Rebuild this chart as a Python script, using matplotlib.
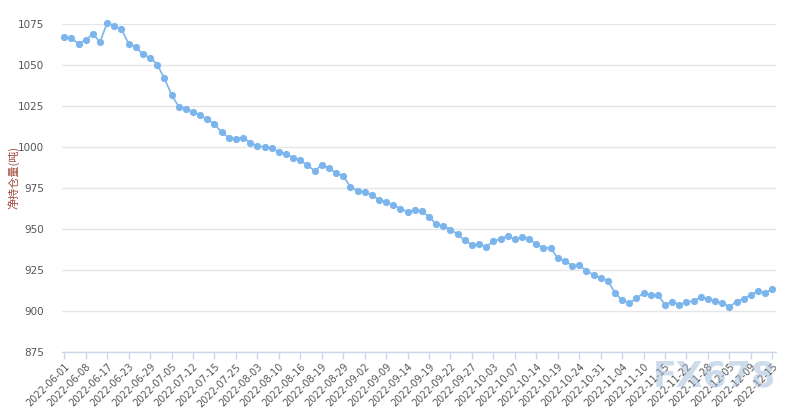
import matplotlib.pyplot as plt
import numpy as np

# net holdings (tonnes), one value per reported day
holdings = [
    1067.3, 1066.3, 1063.0, 1065.4, 1068.9, 1064.0, 1075.8, 1073.8, 1071.8, 1063.0,
    1061.0, 1056.5, 1054.5, 1050.2, 1041.9, 1031.9, 1024.6, 1023.2, 1021.4, 1019.5,
    1016.8, 1014.0, 1009.0, 1005.7, 1005.1, 1005.7, 1002.7, 1000.5, 1000.2, 999.1,
    997.1, 995.6, 993.6, 991.9, 988.8, 985.6, 988.8, 987.2, 984.1, 982.3,
    975.8, 973.2, 972.8, 970.7, 967.9, 966.5, 964.5, 962.4, 960.4, 961.8,
    960.8, 957.5, 953.0, 951.8, 949.7, 946.8, 943.0, 940.4, 940.7, 939.2,
    942.5, 944.0, 945.8, 943.8, 945.0, 944.0, 940.7, 938.6, 938.4, 932.3,
    930.5, 927.7, 927.9, 924.6, 922.0, 920.0, 918.5, 911.2, 906.5, 904.9,
    907.7, 911.0, 909.6, 909.8, 903.9, 905.7, 903.9, 905.3, 906.3, 908.3,
    907.5, 906.1, 904.9, 902.6, 905.7, 907.5, 909.8, 912.2, 911.0, 913.4,
]

# every third day carries a label
tick_labels = [
    "2022-06-01", "2022-06-08", "2022-06-17", "2022-06-23", "2022-06-29",
    "2022-07-05", "2022-07-12", "2022-07-15", "2022-07-25", "2022-08-03",
    "2022-08-10", "2022-08-16", "2022-08-19", "2022-08-29", "2022-09-02",
    "2022-09-09", "2022-09-14", "2022-09-19", "2022-09-22", "2022-09-27",
    "2022-10-03", "2022-10-07", "2022-10-14", "2022-10-19", "2022-10-24",
    "2022-10-31", "2022-11-04", "2022-11-10", "2022-11-15", "2022-11-22",
    "2022-11-28", "2022-12-05", "2022-12-09", "2022-12-15",
]
y_ticks = [875, 900, 925, 950, 975, 1000, 1025, 1050, 1075]

fig = plt.figure(figsize=(7.98, 4.12), dpi=100)
ax = fig.add_axes([0.0783, 0.1456, 0.894, 0.7961])

x = np.arange(len(holdings))
ax.plot(x, holdings, color="#7cb5ec", lw=1.2, marker="o", ms=5.2,
        markeredgewidth=0, clip_on=False, zorder=3)

ax.set_xlim(-0.25, 99.5)
ax.set_ylim(875, 1075)
ax.set_yticks(y_ticks)
ax.set_yticklabels([str(v) for v in y_ticks], fontsize=7.5, color="#555555")
ax.tick_params(axis="y", length=0, pad=13)

ax.set_xticks(x[::3])
ax.set_xticklabels(tick_labels, rotation=45, ha="right", rotation_mode="anchor",
                   fontsize=7, color="#555555")
ax.tick_params(axis="x", length=5, width=1, color="#ccd6eb", pad=2)

ax.grid(axis="y", color="#e6e6e6", lw=1)
ax.set_axisbelow(True)
for side in ["top", "right", "left"]:
    ax.spines[side].set_visible(False)
ax.spines["bottom"].set_color("#ccd6eb")
ax.spines["bottom"].set_linewidth(1)

fig.text(0.017, 0.57, "净持仓量(吨)", rotation=90, ha="center", va="center",
         fontsize=8, color="#a04a3c", family=["Noto Sans CJK SC", "DejaVu Sans"])

# watermark
fig.text(0.895, 0.085, "FX678", ha="center", va="center", fontsize=25,
         color="#9fb8d8", alpha=0.5, fontweight="bold")

fig.savefig("out.png", dpi=100)
